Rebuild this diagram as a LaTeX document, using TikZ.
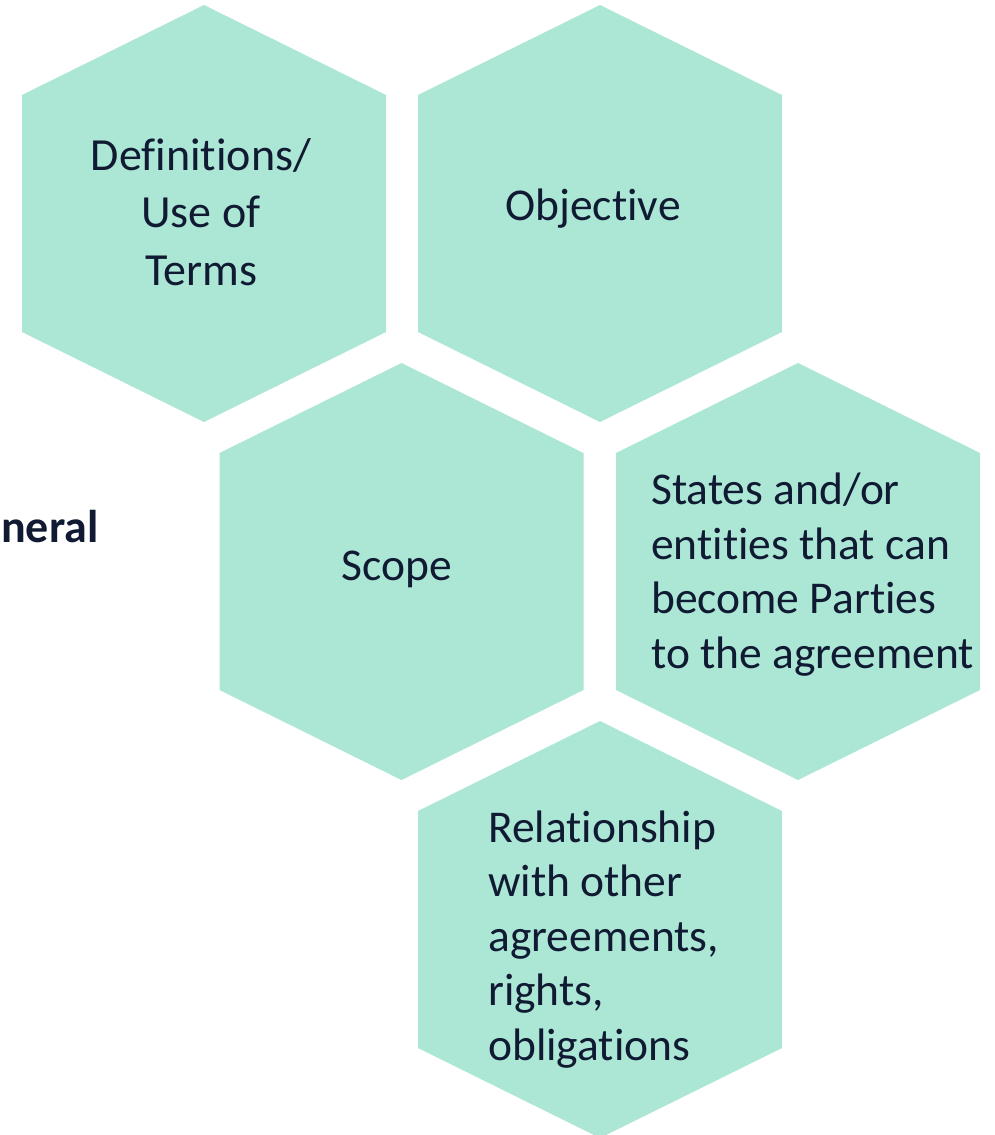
\documentclass[tikz,border=0pt]{standalone}
\usepackage{fontspec}
\setmainfont{Carlito}[Ligatures={NoCommon}]
\definecolor{hexfill}{RGB}{172,230,212}
\definecolor{hextext}{RGB}{16,27,51}
\newcommand\nolig{\kern0pt{}}
\tikzset{
  hexshape/.style={fill=hexfill, draw=none},
  hexlabel/.style={text=hextext, inner sep=0pt, font=\fontsize{45.5}{54.5}\selectfont},
  sidelabel/.style={text=hextext, inner sep=0pt, font=\fontsize{46}{55}\selectfont\bfseries}
}
\newcommand\hexpath[3]{%
  \fill[hexshape] (#2,#3) ++(0,-208.5) -- ++(182,90) -- ++(0,237) -- ++(-182,90)
    -- ++(-182,-90) -- ++(0,-237) -- cycle;
  \coordinate (#1) at (#2,#3);}
\begin{document}
\begin{tikzpicture}[x=1pt,y=-1pt]
\useasboundingbox (0,0) rectangle (994,1135);
\hexpath{h1}{204}{213.5}
\hexpath{h2}{600}{213.5}
\hexpath{h3}{401.5}{571.5}
\hexpath{h4}{798}{571.5}
\hexpath{h5}{600}{929.5}
\node[hexlabel, align=center, anchor=base, font=\fontsize{46}{57.5}\selectfont] (t1) at (201,285) {Definit\nolig ions/\\Use of\\Terms};
\node[hexlabel, anchor=base] (t2) at (593,220) {Objective};
\node[hexlabel, anchor=base] (t3) at (397,580) {Scope};
\node[hexlabel, align=left, anchor=base west] (t4) at (651,668) {States and/or\\entit\nolig ies that can\\become Part\nolig ies\\to the agreement};
\node[hexlabel, align=left, anchor=base west] (t5) at (488,1060) {Relationship\\with other\\agreements,\\rights,\\obligat\nolig ions};
\node[sidelabel, anchor=base west] (g) at (1,542) {neral};
\end{tikzpicture}
\end{document}
